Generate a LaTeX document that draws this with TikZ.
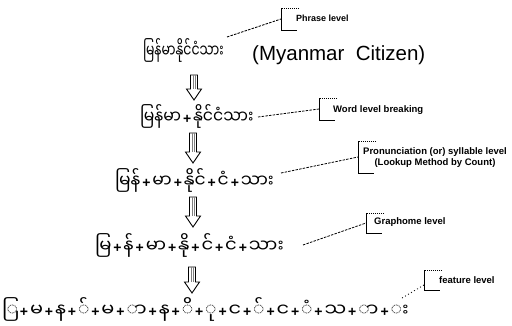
\documentclass[tikz,border=0pt]{standalone}
\usepackage{fontspec}
\usepackage{graphicx}
\setmainfont{Liberation Sans}
\newfontfamily\myfont[Script=Myanmar]{Noto Sans Myanmar UI}
\usetikzlibrary{calc}
\def\sx{1}
\newcommand\m[1]{\scalebox{\sx}[1]{\myfont #1}}
\newcommand\pl{\makebox[12pt]{\normalfont\bfseries\fontsize{14}{14}\selectfont +}}
\tikzset{
  mya/.style={inner sep=0pt, anchor=west, font=\fontsize{18}{18}\selectfont},
  lbl/.style={inner sep=0pt, anchor=west, align=center, font=\bfseries\fontsize{9.5}{11}\selectfont},
  leader/.style={line width=0.8pt, dash pattern=on 2.5pt off 1.2pt},
  leaderdot/.style={line width=0.8pt, dash pattern=on 1pt off 2.5pt},
  brk/.style={line width=1pt},
  blk/.style={draw, line width=0.9pt, fill=white}
}
\newcommand\blockarrow[2]{%
  \draw[blk] let \p1=(#1), \p2=(#2) in
    (\x1-3.5pt,\y1) -- (\x1+3.5pt,\y1) -- (\x1+3.5pt,\y2+11pt) -- (\x1+7.5pt,\y2+11pt)
    -- (\x1,\y2) -- (\x1-7.5pt,\y2+11pt) -- (\x1-3.5pt,\y2+11pt) -- cycle;
  \draw[line width=0.5pt, gray] let \p1=(#1), \p2=(#2) in
    (\x1-1pt,\y1) -- (\x1-1pt,\y2+11pt) (\x1+1pt,\y1) -- (\x1+1pt,\y2+11pt);}
\newcommand\bracket[2]{% coordinate, half height
  \draw[brk, densely dotted] ($(#1)+(18,-#2)$) -- ($(#1)+(0,-#2)$);
  \draw[brk] ($(#1)+(0,-#2)$) -- ($(#1)+(0,#2)$) -- ($(#1)+(16,#2)$);}
\begin{document}
\begin{tikzpicture}[x=1pt,y=-1pt]
\useasboundingbox[fill=white] (0,0) rectangle (512,325);
% levels
\node[mya] (l1) at (143,50) {\def\sx{0.69}\m{မြန်မာနိုင်ငံသား}};
\node[inner sep=0pt, anchor=west, font=\fontsize{20.5}{20.5}\selectfont] (en) at (252,55) {(Myanmar\ \ Citizen)};
\node[mya] (l2) at (140,116) {\def\sx{0.87}\m{မြန်မာ}\pl\m{နိုင်ငံသား}};
\node[mya] (l3) at (115,180) {\def\sx{0.95}\m{မြန်}\pl\m{မာ}\pl\m{နိုင်}\pl\m{ငံ}\pl\m{သား}};
\node[mya] (l4) at (95,245) {\def\sx{1}\m{မြ}\pl\m{န်}\pl\m{မာ}\pl\m{နို}\pl\m{င်}\pl\m{ငံ}\pl\m{သား}};
\node[mya] (l5) at (2,309) {\def\sx{1.07}\m{ြ}\pl\m{မ}\pl\m{န}\pl\m{်}\pl\m{မ}\pl\m{ာ}\pl\m{န}\pl\m{ိ}\pl\m{ု}\pl\m{င}\pl\m{်}\pl\m{င}\pl\m{ံ}\pl\m{သ}\pl\m{ာ}\pl\m{း}};
% arrows
\coordinate (a1) at (194,75);  \coordinate (b1) at (194,100);
\coordinate (a2) at (193,133); \coordinate (b2) at (193,163);
\coordinate (a3) at (193,197); \coordinate (b3) at (193,227);
\coordinate (a4) at (192,267); \coordinate (b4) at (192,293);
\blockarrow{a1}{b1}
\blockarrow{a2}{b2}
\blockarrow{a3}{b3}
\blockarrow{a4}{b4}
% labels
\coordinate (c1) at (281,19);  \bracket{c1}{11}
\node[lbl, font=\bfseries\fontsize{9}{11}\selectfont] (t1) at (296,18) {Phrase level};
\coordinate (c2) at (319,109); \bracket{c2}{11}
\node[lbl] (t2) at (333,110) {Word level breaking};
\coordinate (c3) at (358,157); \bracket{c3}{16}
\node[lbl] (t3) at (363,158) {Pronunciation (or) syllable level\\(Lookup Method by Count)};
\coordinate (c4) at (366,223); \bracket{c4}{10}
\node[lbl] (t4) at (374,222) {Graphome level};
\coordinate (c5) at (424,280); \bracket{c5}{10}
\node[lbl] (t5) at (439,280) {feature level};
% leaders
\coordinate (s1) at (227,37);
\coordinate (s2) at (258,117);
\coordinate (s3) at (281,173);
\coordinate (s4) at (303,245);
\coordinate (s5) at (402,298);
\draw[leader] (s1) -- (c1);
\draw[leader] (s2) -- (c2);
\draw[leader] (s3) -- (c3);
\draw[leader] (s4) -- (c4);
\draw[leaderdot] (s5) -- ($(c5)+(0,5)$);
\end{tikzpicture}
\end{document}
